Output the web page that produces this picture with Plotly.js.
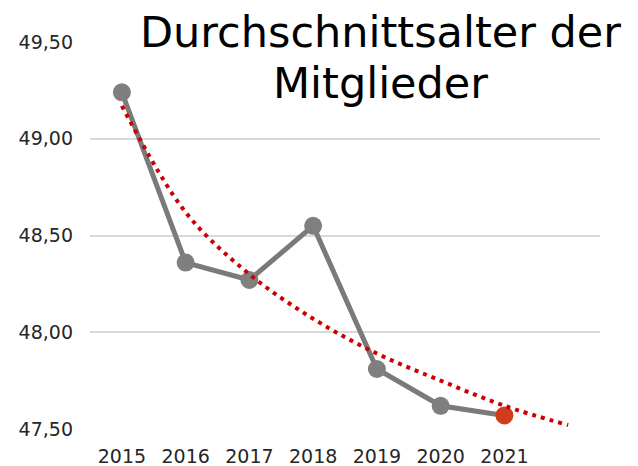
<!DOCTYPE html>
<html>
<head>
<meta charset="utf-8">
<script src="https://cdn.plot.ly/plotly-3.0.1.min.js"></script>
<style>html,body{margin:0;padding:0;background:#fff;}#chart{width:638px;height:466px;}</style>
</head>
<body>
<div id="chart"></div>
<script>
// Data
const years = ['2015', '2016', '2017', '2018', '2019', '2020', '2021'];
const avgAge = [49.24, 48.36, 48.27, 48.55, 47.81, 47.62, 47.57];
// Logarithmic trendline (incl. one forecast period)
const trendYears = ['2015', '2016', '2017', '2018', '2019', '2020', '2021', '2022'];
const trendValues = [49.17, 48.62, 48.30, 48.07, 47.89, 47.75, 47.62, 47.52];
const tickVals = [47.5, 48.0, 48.5, 49.0, 49.5];
const tickText = ['47,50', '48,00', '48,50', '49,00', '49,50'];
const titleLines = ['Durchschnittsalter der', 'Mitglieder'];

const markerColors = avgAge.map((v, i) => i === avgAge.length - 1 ? '#d23c1e' : '#7f7f7f');

const traces = [
  {
    type: 'scatter', mode: 'lines+markers',
    x: years, y: avgAge,
    line: {color: '#7a7a7a', width: 5},
    marker: {color: markerColors, size: 18, line: {width: 0}},
    hoverinfo: 'skip', showlegend: false
  },
  {
    type: 'scatter', mode: 'lines',
    x: trendYears, y: trendValues,
    line: {color: '#cc0000', width: 4, dash: '4px,5px', shape: 'spline'},
    hoverinfo: 'skip', showlegend: false
  }
];

const titleFont = {family: 'DejaVu Sans, Verdana, sans-serif', size: 43, color: '#000000'};

const layout = {
  width: 638, height: 466,
  margin: {l: 90, r: 38, t: 42, b: 37},
  paper_bgcolor: '#ffffff', plot_bgcolor: '#ffffff',
  font: {family: 'DejaVu Sans, Verdana, sans-serif', color: '#262626', size: 19},
  annotations: [
    {text: titleLines[0], xref: 'paper', yref: 'paper', x: 0.569, y: 1.0258,
     xanchor: 'center', yanchor: 'middle', showarrow: false, font: titleFont},
    {text: titleLines[1], xref: 'paper', yref: 'paper', x: 0.569, y: 0.894,
     xanchor: 'center', yanchor: 'middle', showarrow: false, font: titleFont}
  ],
  xaxis: {
    type: 'category',
    categoryarray: trendYears, categoryorder: 'array',
    range: [-0.5, 7.5],
    tickvals: years, ticktext: years,
    showgrid: false, zeroline: false, showline: false,
    ticks: '', ticklabelstandoff: 14,
    tickfont: {size: 19, color: '#262626'}
  },
  yaxis: {
    range: [47.5, 49.5],
    tickvals: tickVals, ticktext: tickText,
    showgrid: true, gridcolor: '#d9d9d9', gridwidth: 2,
    zeroline: false, showline: false,
    ticks: '', ticklabelstandoff: 16,
    tickfont: {size: 19, color: '#262626'}
  }
};

Plotly.newPlot('chart', traces, layout, {staticPlot: true, displayModeBar: false});
</script>
</body>
</html>
